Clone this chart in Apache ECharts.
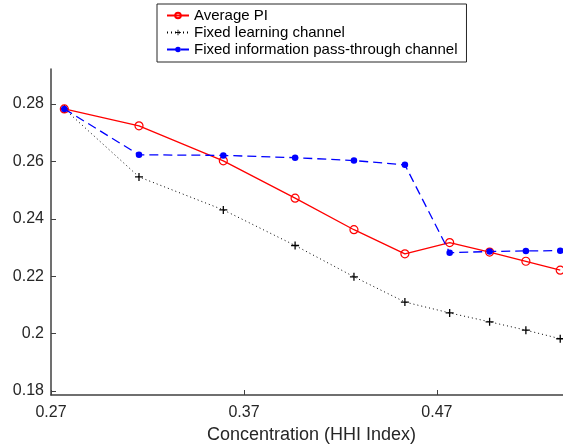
<!DOCTYPE html>
<html>
<head>
<meta charset="utf-8">
<script src="https://cdn.jsdelivr.net/npm/echarts@6/dist/echarts.min.js"></script>
<style>
html,body{margin:0;padding:0;background:#fff;overflow:hidden;width:563px;height:446px;}
#c{width:600px;height:446px;}
</style>
</head>
<body>
<div id="c"></div>
<script>
const seriesNames = ['Average PI', 'Fixed learning channel', 'Fixed information pass-through channel'];
const hhi = [0.2769, 0.3156, 0.3593, 0.3965, 0.4270, 0.4534, 0.4766, 0.4973, 0.5161, 0.5339];
const averagePI = [0.2783, 0.2724, 0.2602, 0.2472, 0.2362, 0.2278, 0.2317, 0.2284, 0.2252, 0.2221];
const fixedLearning = [0.2783, 0.2546, 0.2431, 0.2307, 0.2198, 0.2110, 0.2072, 0.2041, 0.2012, 0.1982];
const fixedPassThrough = [0.2783, 0.2623, 0.2621, 0.2613, 0.2603, 0.2588, 0.2282, 0.2286, 0.2288, 0.2289];
const xTicks = [0.27, 0.37, 0.47];
const yTicks = [0.18, 0.2, 0.22, 0.24, 0.26, 0.28];

const pair = ys => hhi.map((x, i) => [x, ys[i]]);
const plusPath = 'path://M4.2,0h1.6v4.2h4.2v1.6h-4.2v4.2h-1.6v-4.2h-4.2v-1.6h4.2z';
const axisColor = '#404040';
const textColor = '#262626';
const font = 'Liberation Sans, Arial, sans-serif';

const chart = echarts.init(document.getElementById('c'), null, {renderer: 'canvas'});
chart.setOption({
  animation: false,
  backgroundColor: '#fff',
  grid: {left: 51, top: 69, right: 28, bottom: 51, containLabel: false, outerBoundsMode: 'none'},
  legend: {
    orient: 'vertical',
    left: 157,
    top: 4,
    padding: [4, 9, 5, 9],
    itemGap: 2,
    itemWidth: 22,
    itemHeight: 7,
    borderColor: textColor,
    borderWidth: 1,
    backgroundColor: '#fff',
    textStyle: {fontFamily: font, fontSize: 15, color: '#000'},
    data: seriesNames
  },
  xAxis: {
    type: 'value',
    min: 0.27,
    max: 0.54,
    name: 'Concentration (HHI Index)',
    nameLocation: 'middle',
    nameGap: 31,
    nameTextStyle: {fontFamily: font, fontSize: 18, color: textColor},
    axisLine: {show: true, onZero: false, lineStyle: {color: axisColor, width: 1.5}},
    axisTick: {show: true, inside: true, length: 5, customValues: xTicks, lineStyle: {color: axisColor, width: 1}},
    axisLabel: {customValues: xTicks, margin: 10, fontFamily: font, fontSize: 16, color: textColor,
      formatter: v => v.toFixed(2)},
    splitLine: {show: false}
  },
  yAxis: {
    type: 'value',
    min: 0.1786,
    max: 0.2922,
    axisLine: {show: true, onZero: false, lineStyle: {color: axisColor, width: 1.5}},
    axisTick: {show: true, inside: true, length: 5, customValues: yTicks, lineStyle: {color: axisColor, width: 1}},
    axisLabel: {customValues: yTicks, margin: 7, fontFamily: font, fontSize: 16, color: textColor,
      formatter: v => String(parseFloat(v.toFixed(2)))},
    splitLine: {show: false}
  },
  series: [
    {
      name: seriesNames[0], type: 'line', data: pair(averagePI),
      symbol: 'circle', symbolSize: 8, z: 3,
      lineStyle: {color: '#ff0000', width: 1.3, type: 'solid'},
      itemStyle: {color: 'rgba(255,255,255,0)', borderColor: '#ff0000', borderWidth: 1.2}
    },
    {
      name: seriesNames[1], type: 'line', data: pair(fixedLearning),
      symbol: plusPath, symbolSize: 8, z: 2,
      lineStyle: {color: '#000', width: 1, type: [1, 3]},
      itemStyle: {color: '#000'}
    },
    {
      name: seriesNames[2], type: 'line', data: pair(fixedPassThrough),
      symbol: 'circle', symbolSize: 6.5, z: 4,
      lineStyle: {color: '#0000ff', width: 1.3, type: [9, 5]},
      itemStyle: {color: '#0000ff'}
    }
  ]
});
</script>
</body>
</html>
